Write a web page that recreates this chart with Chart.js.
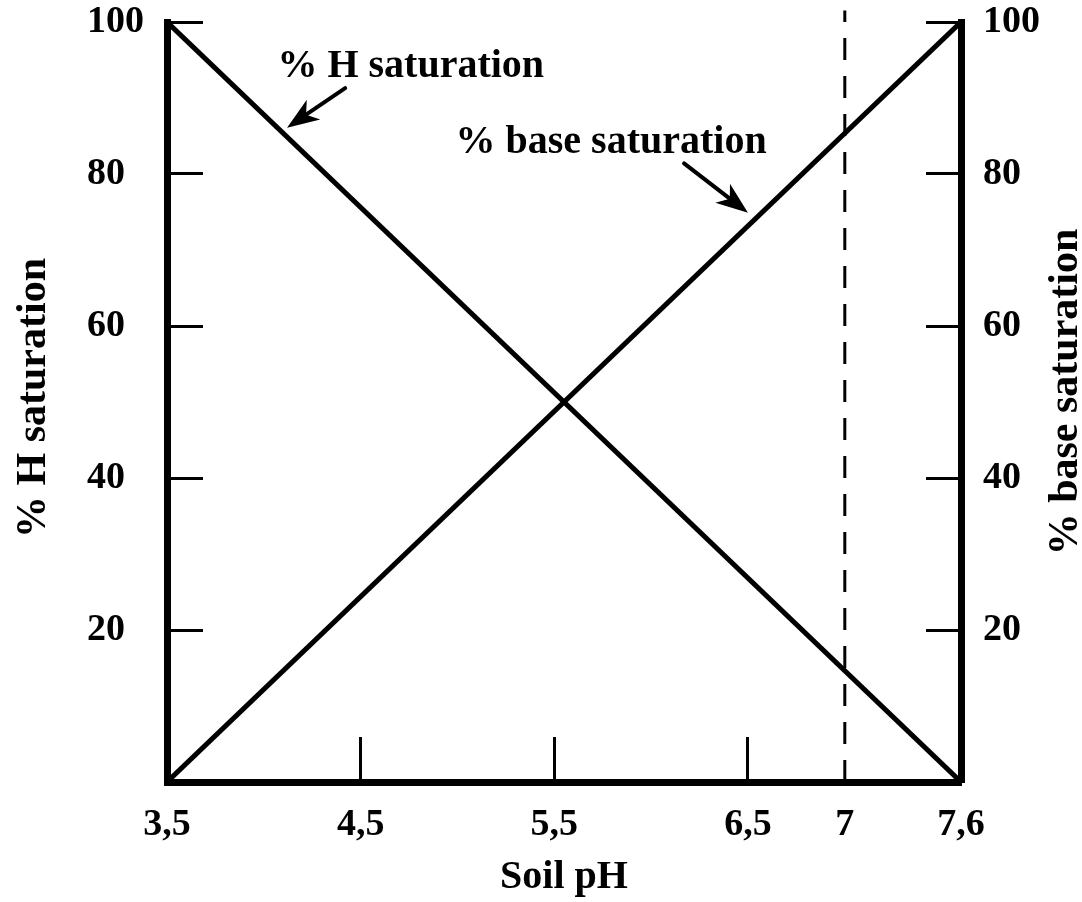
<!DOCTYPE html>
<html>
<head>
<meta charset="utf-8">
<script src="https://cdn.jsdelivr.net/npm/chart.js@4.4.1/dist/chart.umd.min.js"></script>
<style>
  html, body { margin: 0; padding: 0; background: #fff; }
  #wrap { width: 1082px; height: 902px; position: relative; }
</style>
</head>
<body>
<div id="wrap"><canvas id="satChart"></canvas></div>
<script>
// 🔹 data
const phEnds = [3.5, 7.6];
const hSaturation = [100, 0];
const baseSaturation = [0, 100];
const phTicks = [3.5, 4.5, 5.5, 6.5, 7, 7.6];
const innerPhTicks = [4.5, 5.5, 6.5];
const pctTicks = [20, 40, 60, 80, 100];
const neutralPh = 7;
const neutralSpan = [0, 101.5];

// 🔹 annotations (pH, %)
const hLabel = ["% H saturation", 4.07, 92.8];
const baseLabel = ["% base saturation", 4.99, 82.8];
const hArrow = [[4.42, 91.3], [4.12, 86.1]];
const baseArrow = [[6.17, 81.4], [6.50, 74.9]];

const SERIF = '"Liberation Serif", "DejaVu Serif", serif';

function toPoints(xs, ys) {
  return xs.map((x, i) => ({ x: x, y: ys[i] }));
}

function fmtPh(v) {
  return String(v).replace(".", ",");
}

// 🔹 the layout must not grow the margins for the labels
function noScalePadding(scale) {
  scale.paddingTop = 0;
  scale.paddingBottom = 0;
  scale.paddingLeft = 0;
  scale.paddingRight = 0;
}

// 🔹 arrow from tail to head, in data units
function drawArrow(ctx, chart, arrow) {
  const sx = chart.scales.x, sy = chart.scales.y;
  const x1 = sx.getPixelForValue(arrow[0][0]), y1 = sy.getPixelForValue(arrow[0][1]);
  const x2 = sx.getPixelForValue(arrow[1][0]), y2 = sy.getPixelForValue(arrow[1][1]);
  const ang = Math.atan2(y2 - y1, x2 - x1);
  const cos = Math.cos(ang), sin = Math.sin(ang);
  const len = 32, half = 12, notch = 9;
  const bx = x2 - cos * len, by = y2 - sin * len;
  ctx.save();
  ctx.strokeStyle = "#000";
  ctx.fillStyle = "#000";
  ctx.lineWidth = 4;
  ctx.lineCap = "round";
  ctx.beginPath();
  ctx.moveTo(x1, y1);
  ctx.lineTo(bx + cos * notch, by + sin * notch);
  ctx.stroke();
  ctx.beginPath();
  ctx.moveTo(x2, y2);
  ctx.lineTo(bx - sin * half, by + cos * half);
  ctx.lineTo(bx + cos * notch, by + sin * notch);
  ctx.lineTo(bx + sin * half, by - cos * half);
  ctx.closePath();
  ctx.fill();
  ctx.restore();
}

function drawLabel(ctx, chart, label) {
  const x = chart.scales.x.getPixelForValue(label[1]);
  const y = chart.scales.y.getPixelForValue(label[2]);
  ctx.save();
  ctx.font = "bold 40px " + SERIF;
  ctx.fillStyle = "#000";
  ctx.textAlign = "left";
  ctx.textBaseline = "alphabetic";
  ctx.fillText(label[0], x, y);
  ctx.restore();
}

function drawSideTitle(ctx, text, x, y) {
  ctx.save();
  ctx.translate(x, y);
  ctx.rotate(-Math.PI / 2);
  ctx.font = "bold 42px " + SERIF;
  ctx.fillStyle = "#000";
  ctx.textAlign = "center";
  ctx.textBaseline = "alphabetic";
  ctx.fillText(text, 0, 0);
  ctx.restore();
}

const annotatePlugin = {
  id: "annotate",
  afterDatasetsDraw(chart) {
    const ctx = chart.ctx;
    const area = chart.chartArea;
    drawLabel(ctx, chart, hLabel);
    drawLabel(ctx, chart, baseLabel);
    drawArrow(ctx, chart, hArrow);
    drawArrow(ctx, chart, baseArrow);
    const midY = (area.top + area.bottom) / 2;
    drawSideTitle(ctx, "% H saturation", 45, midY - 4);
    drawSideTitle(ctx, "% base saturation", 1077, midY - 10);
  }
};

const tickFont = { family: SERIF, size: 38, weight: "bold", lineHeight: 1 };

function pctAxis(position, width, tickLen, extra) {
  return Object.assign({
    type: "linear",
    position: position,
    min: 0,
    max: 100,
    afterBuildTicks: (scale) => { scale.ticks = pctTicks.map(v => ({ value: v })); },
    afterFit: (scale) => { scale.width = width; noScalePadding(scale); },
    grid: {
      drawOnChartArea: false,
      drawTicks: true,
      tickLength: tickLen,
      tickWidth: 3,
      tickColor: "#000"
    },
    border: { display: true, width: 7, color: "#000" },
    ticks: { font: tickFont, color: "#000" }
  }, extra);
}

function main() {
  const ctx = document.getElementById("satChart").getContext("2d");
  new Chart(ctx, {
    type: "line",
    data: {
      datasets: [
        {
          label: "% H saturation",
          data: toPoints(phEnds, hSaturation),
          borderColor: "#000",
          borderWidth: 5,
          pointRadius: 0,
          yAxisID: "y"
        },
        {
          label: "% base saturation",
          data: toPoints(phEnds, baseSaturation),
          borderColor: "#000",
          borderWidth: 5,
          pointRadius: 0,
          yAxisID: "y2"
        },
        {
          label: "pH 7",
          data: toPoints([neutralPh, neutralPh], neutralSpan),
          borderColor: "#000",
          borderWidth: 3,
          borderDash: [22, 16],
          pointRadius: 0,
          clip: false,
          yAxisID: "y"
        }
      ]
    },
    options: {
      responsive: true,
      maintainAspectRatio: false,
      animation: false,
      layout: { padding: { left: 87, top: 22, right: 0, bottom: 0 } },
      plugins: { legend: { display: false }, tooltip: { enabled: false } },
      scales: {
        x: {
          type: "linear",
          position: "bottom",
          min: phEnds[0],
          max: phEnds[1],
          afterBuildTicks: (scale) => { scale.ticks = phTicks.map(v => ({ value: v })); },
          afterFit: (scale) => { scale.height = 120; noScalePadding(scale); },
          grid: {
            drawOnChartArea: false,
            drawTicks: true,
            tickLength: -45,
            tickWidth: 3,
            tickColor: (c) => innerPhTicks.includes(c.tick && c.tick.value) ? "#000" : "rgba(0,0,0,0)"
          },
          border: { display: true, width: 7, color: "#000" },
          ticks: {
            font: tickFont,
            color: "#000",
            padding: 69,
            maxRotation: 0,
            callback: (v) => fmtPh(v)
          },
          title: {
            display: true,
            text: "Soil pH",
            color: "#000",
            font: { family: SERIF, size: 40, weight: "bold", lineHeight: 1.2 },
            padding: { top: 0, bottom: 0 }
          }
        },
        y: pctAxis("left", 80, -36, { ticks: { font: tickFont, color: "#000", crossAlign: "far" } }),
        y2: pctAxis("right", 121, -35, { ticks: { font: tickFont, color: "#000", padding: 57 } })
      }
    },
    plugins: [annotatePlugin]
  });
}

document.addEventListener("DOMContentLoaded", main);
</script>
</body>
</html>
